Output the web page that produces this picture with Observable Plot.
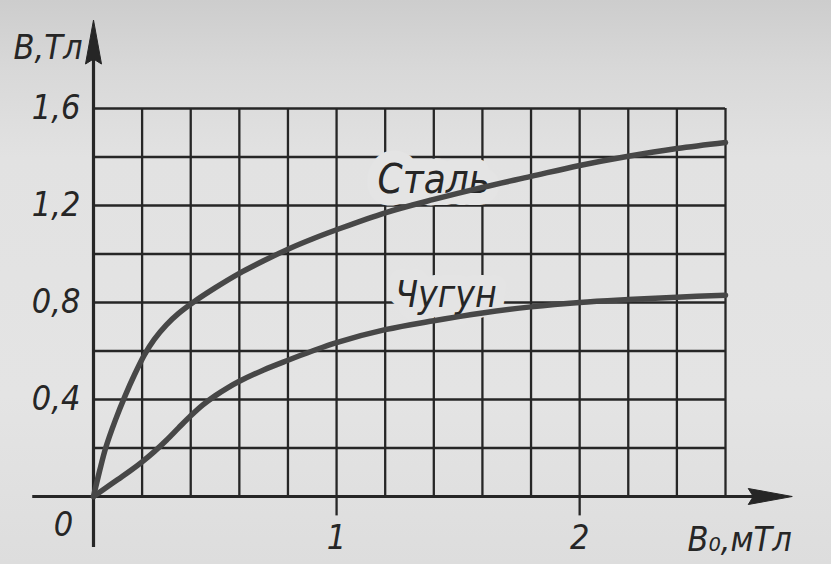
<!DOCTYPE html>
<html>
<head>
<meta charset="utf-8">
<script src="https://cdn.jsdelivr.net/npm/d3@7"></script>
<script src="https://cdn.jsdelivr.net/npm/@observablehq/plot@0.6"></script>
<style>
  html, body { margin: 0; padding: 0; }
  body {
    width: 831px; height: 564px; overflow: hidden;
    background: linear-gradient(180deg, #cdcdcd 0%, #d8d8d8 12%, #e2e2e2 28%, #e4e4e4 70%, #dddddd 100%);
  }
  #chart svg { display: block; background: transparent; }
</style>
</head>
<body>
<div id="chart"></div>
<script>
// ---- data ----
const steelH = [0, 0.025, 0.05, 0.09, 0.13, 0.17, 0.21, 0.25, 0.3, 0.35, 0.405, 0.5, 0.6, 0.7, 0.8, 0.9, 1.0, 1.2, 1.4, 1.6, 1.8, 2.0, 2.2, 2.4, 2.6];
const steelB = [0, 0.105, 0.2, 0.315, 0.415, 0.505, 0.585, 0.648, 0.708, 0.755, 0.797, 0.86, 0.92, 0.972, 1.02, 1.062, 1.10, 1.17, 1.225, 1.275, 1.32, 1.365, 1.403, 1.435, 1.46];
const ironH = [0, 0.05, 0.1, 0.15, 0.2, 0.25, 0.3, 0.35, 0.4, 0.45, 0.5, 0.55, 0.6, 0.7, 0.8, 0.9, 1.0, 1.2, 1.4, 1.6, 1.8, 2.0, 2.2, 2.4, 2.6];
const ironB = [0, 0.035, 0.07, 0.105, 0.143, 0.185, 0.232, 0.283, 0.333, 0.378, 0.415, 0.447, 0.475, 0.522, 0.562, 0.60, 0.635, 0.688, 0.725, 0.757, 0.782, 0.80, 0.812, 0.822, 0.83];
const gridX = [0.2, 0.4, 0.6, 0.8, 1.0, 1.2, 1.4, 1.6, 1.8, 2.0, 2.2, 2.4, 2.6];
const gridY = [0.2, 0.4, 0.6, 0.8, 1.0, 1.2, 1.4, 1.6];
const yTicks = [0.4, 0.8, 1.2, 1.6];
const yTickLabels = ["0,4", "0,8", "1,2", "1,6"];
const xTicks = [1, 2];
const xTickLabels = ["1", "2"];
const seriesNames = ["Сталь", "Чугун"];
const yAxisTitle = "B,Тл";
const xAxisTitle = "B₀,мТл";
const originLabel = "0";

const steel = steelH.map((h, i) => ({H: h, B: steelB[i], s: seriesNames[0]}));
const iron = ironH.map((h, i) => ({H: h, B: ironB[i], s: seriesNames[1]}));

const ink = "#262626";
const paper = "#e4e4e4";
const font = "'Liberation Sans Narrow', 'DejaVu Sans Condensed', 'Liberation Sans', 'DejaVu Sans', sans-serif";

// elongated filled arrow head, pointing up
const arrowHead = {
  draw(ctx) {
    ctx.moveTo(0, -23);
    ctx.lineTo(8, 21);
    ctx.lineTo(0, 16);
    ctx.lineTo(-8, 21);
    ctx.closePath();
  }
};

const chart = Plot.plot({
  width: 831,
  height: 564,
  marginLeft: 93,
  marginRight: 106,
  marginTop: 108,
  marginBottom: 68,
  style: {background: "transparent", overflow: "visible"},
  x: {domain: [0, 2.6], axis: null},
  y: {domain: [0, 1.6], axis: null},
  marks: [
    // grid
    Plot.ruleX(gridX, {x: d => d, y1: 0, y2: 1.6, stroke: ink, strokeWidth: 2.3}),
    Plot.ruleY(gridY, {y: d => d, x1: 0, x2: 2.6, stroke: ink, strokeWidth: 2.3}),
    // tick marks below x axis
    Plot.ruleX(xTicks, {x: d => d, y1: 0, y2: -0.08, stroke: ink, strokeWidth: 2.3}),
    // axes
    Plot.ruleX([0], {x: d => d, y1: -0.21, y2: 1.86, stroke: ink, strokeWidth: 3.2}),
    Plot.ruleY([0], {y: d => d, x1: -0.25, x2: 2.77, stroke: ink, strokeWidth: 3.2}),
    Plot.dot([0], {x: d => d, y: 1.87, symbol: arrowHead, fill: ink, stroke: ink, strokeWidth: 1}),
    Plot.dot([0], {x: 2.78, y: d => d, symbol: arrowHead, rotate: 90, fill: ink, stroke: ink, strokeWidth: 1}),
    // tick labels
    Plot.text(yTicks, {x: 0, y: d => d, text: (d, i) => yTickLabels[i], dx: -13, textAnchor: "end",
      fontSize: 34, fontStyle: "italic", fontFamily: font, fill: ink}),
    Plot.text(xTicks, {x: d => d, y: 0, text: (d, i) => xTickLabels[i], dy: 42,
      fontSize: 34, fontStyle: "italic", fontFamily: font, fill: ink}),
    Plot.text([originLabel], {x: 0, y: 0, text: d => d, dx: -30, dy: 29,
      fontSize: 34, fontStyle: "italic", fontFamily: font, fill: ink}),
    // axis titles
    Plot.text([yAxisTitle], {x: 0, y: 1.85, text: d => d, dx: -11, textAnchor: "end",
      fontSize: 34, fontStyle: "italic", fontFamily: font, fill: ink}),
    Plot.text([xAxisTitle], {x: 2.6, y: 0, text: d => d, dx: -38, dy: 44, textAnchor: "start",
      fontSize: 34, fontStyle: "italic", fontFamily: font, fill: ink}),
    // curve labels with paper halo (breaks the grid behind them)
    Plot.text([seriesNames[0]], {x: 1.4, y: 1.305, text: d => d,
      fontSize: 40, fontStyle: "italic", fontFamily: font, fill: ink, stroke: paper, strokeWidth: 24}),
    Plot.text([seriesNames[1]], {x: 1.45, y: 0.83, text: d => d,
      fontSize: 37, fontStyle: "italic", fontFamily: font, fill: ink, stroke: paper, strokeWidth: 22}),
    // curves
    Plot.line(steel, {x: "H", y: "B", curve: "catmull-rom", stroke: "#474747", strokeWidth: 5.5}),
    Plot.line(iron, {x: "H", y: "B", curve: "catmull-rom", stroke: "#474747", strokeWidth: 5.5})
  ]
});
document.getElementById("chart").append(chart);
</script>
</body>
</html>
